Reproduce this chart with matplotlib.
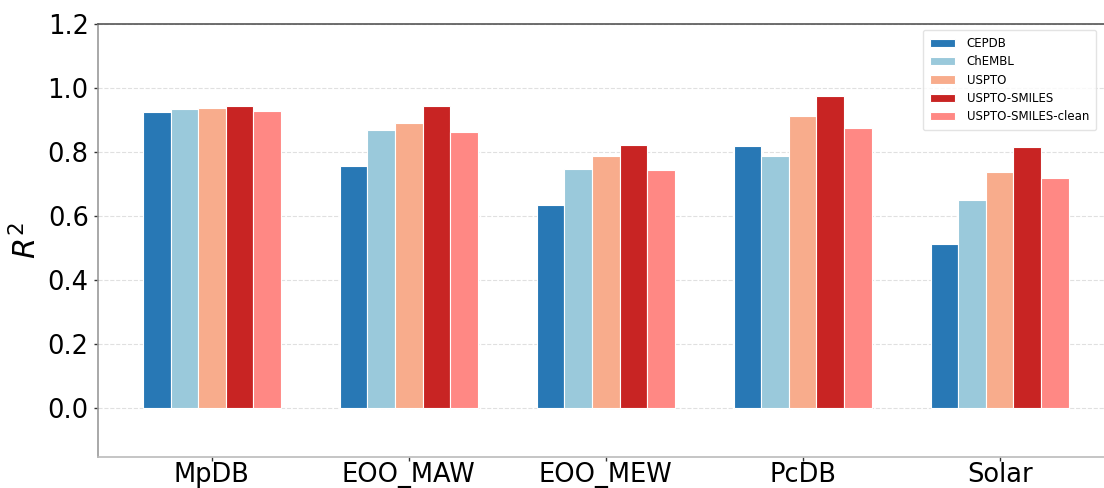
import matplotlib
matplotlib.use("Agg")
import matplotlib.pyplot as plt
import numpy as np

categories = ["MpDB", "EOO_MAW", "EOO_MEW", "PcDB", "Solar"]
series_names = ["CEPDB", "ChEMBL", "USPTO", "USPTO-SMILES", "USPTO-SMILES-clean"]
cepdb = [0.925, 0.756, 0.633, 0.818, 0.514]
chembl = [0.934, 0.869, 0.746, 0.789, 0.651]
uspto = [0.937, 0.891, 0.789, 0.911, 0.737]
uspto_smiles = [0.943, 0.945, 0.822, 0.976, 0.816]
uspto_smiles_clean = [0.929, 0.862, 0.743, 0.876, 0.719]
colors = ["#2878b5", "#9ac9db", "#f8ac8c", "#c82423", "#ff8884"]
yticks = [0.0, 0.2, 0.4, 0.6, 0.8, 1.0, 1.2]

all_series = [cepdb, chembl, uspto, uspto_smiles, uspto_smiles_clean]

fig = plt.figure(figsize=(11.04, 4.88), dpi=100)
ax = fig.add_axes([97.7 / 1104, 31 / 488, 1 - 97.7 / 1104, (457 - 24) / 488])

x = np.arange(len(categories))
w = 0.14
for i, (name, vals, c) in enumerate(zip(series_names, all_series, colors)):
    ax.bar(x + (i - 2) * w, vals, width=w, color=c, edgecolor="white",
           linewidth=0.8, label=name, zorder=3)

ax.set_xlim(-0.58, 4.53)
ax.set_ylim(-0.153, 1.2)
ax.set_yticks(yticks)
ax.set_yticklabels([f"{t:.1f}" for t in yticks])
ax.set_xticks(x)
ax.set_xticklabels(categories)
ax.tick_params(axis="both", labelsize=18.5, length=3, width=1, color="#333333")
ax.tick_params(axis="x", pad=0.5)
ax.set_ylabel(r"$R^2$", fontsize=22, labelpad=4)

ax.yaxis.grid(True, linestyle="--", color="#e0e0e0", linewidth=0.8, zorder=0)
ax.set_axisbelow(True)

ax.spines["right"].set_visible(False)
ax.spines["top"].set_color("#555555")
ax.spines["top"].set_linewidth(1.2)
ax.spines["left"].set_color("#999999")
ax.spines["left"].set_linewidth(1.2)
ax.spines["bottom"].set_color("#bbbbbb")
ax.spines["bottom"].set_linewidth(1.2)

leg = ax.legend(loc="upper left", fontsize=8.5, frameon=True,
                bbox_to_anchor=((923 - 97.7) / (1104 - 97.7), 1 - 6 / 433),
                borderaxespad=0, handlelength=2.1,
                borderpad=0.6, labelspacing=0.45, handletextpad=1.0)
leg.get_frame().set_edgecolor("#dddddd")

fig.savefig("out.png", dpi=100)
